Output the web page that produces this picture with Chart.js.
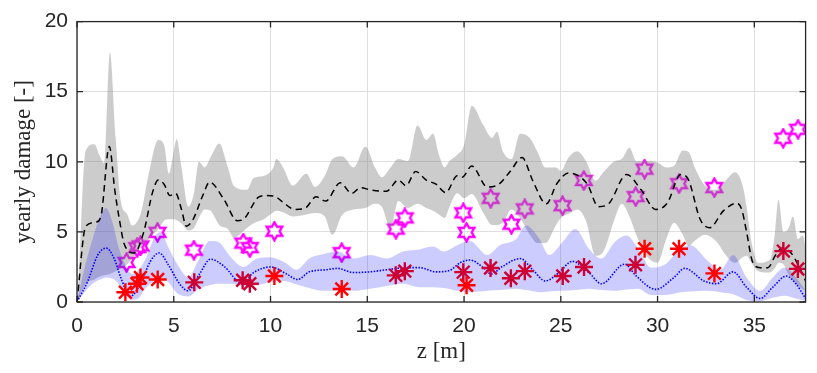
<!DOCTYPE html>
<html>
<head>
<meta charset="utf-8">
<script src="https://cdn.jsdelivr.net/npm/chart.js@4/dist/chart.umd.min.js"></script>
<style>
  html, body { margin: 0; padding: 0; background: #fff; }
  #wrap { width: 817px; height: 373px; }
</style>
</head>
<body>
<div id="wrap"><canvas id="chartCanvas" width="817" height="373"></canvas></div>
<script>
// ---- data ----
const grayZ = [0.05, 0.45, 0.9, 1.15, 1.4, 1.7, 2.0, 2.25, 2.6, 2.85, 3.3, 3.7, 4.2, 4.5, 4.75,
  5.0, 5.15, 5.4, 5.75, 6.05, 6.3, 6.6, 6.9, 7.35, 7.8, 8.1, 8.8, 9.1, 9.65, 10.15,
  10.3, 10.65, 11.15, 11.85, 12.3, 12.8, 13.2, 13.7, 14.3, 14.9, 15.4, 15.75, 16.2, 16.6, 17.1,
  17.6, 18.05, 18.4, 18.7, 19.0, 19.25, 19.65, 20.0, 20.4, 21.0, 21.45, 21.7, 22.0, 22.45, 22.9,
  23.4, 23.8, 24.2, 24.75, 25.0, 25.4, 25.85, 26.3, 26.8, 27.2, 27.8, 28.15, 28.55, 28.9, 29.4,
  30.0, 30.45, 30.85, 31.3, 31.6, 31.95, 32.45, 33.05, 33.55, 34.0, 34.4, 34.6, 34.85, 35.2, 35.8,
  36.05, 36.25, 36.5, 36.75, 37.0, 37.25, 37.5, 37.7];
const grayUpper = [0.3, 10.8, 11.25, 10.5, 9.9, 17.8, 11.7, 7.3, 6.25, 5.45, 6.35, 9.1, 11.55, 11.2, 9.15,
  10.75, 11.6, 9.6, 6.8, 7.8, 10.0, 9.6, 10.3, 11.3, 9.6, 8.3, 8.0, 8.8, 9.0, 9.6,
  10.2, 9.6, 8.3, 9.15, 8.2, 9.0, 10.2, 10.4, 9.6, 11.1, 9.6, 8.9, 9.6, 10.2, 10.05,
  12.6, 11.55, 12.0, 10.5, 9.6, 10.05, 10.5, 11.2, 14.0, 12.6, 11.7, 12.15, 10.75, 10.2, 12.0,
  11.7, 10.7, 9.6, 9.6, 9.35, 10.3, 10.75, 10.05, 8.65, 9.25, 10.05, 10.2, 11.0, 10.05, 10.05,
  9.95, 9.6, 9.7, 10.8, 10.7, 9.5, 8.3, 8.0, 8.7, 9.25, 8.3, 6.8, 4.3, 2.8, 3.0,
  4.75, 7.3, 5.0, 5.2, 6.1, 4.5, 4.75, 3.35];
const grayLower = [0.2, 1.3, 1.6, 1.8, 1.9, 2.0, 2.2, 2.4, 2.7, 3.1, 3.9, 4.5, 5.2, 5.8, 5.9,
  5.9, 5.85, 5.6, 5.1, 5.3, 6.0, 6.6, 6.5, 5.5, 5.2, 4.6, 5.3, 5.6, 5.9, 6.4,
  6.5, 6.4, 6.1, 6.25, 6.35, 6.1, 4.8, 6.2, 6.6, 6.7, 7.0, 6.8, 5.3, 7.2, 6.7,
  7.0, 6.7, 6.5, 6.25, 6.0, 6.8, 7.75, 7.4, 7.7, 6.35, 5.5, 5.5, 5.65, 6.6, 6.0,
  4.8, 4.2, 4.2, 5.5, 6.0, 6.3, 6.6, 5.8, 3.3, 3.6, 6.0, 7.0, 6.1, 4.8, 3.35,
  2.8, 4.5, 5.65, 4.8, 4.0, 4.4, 4.8, 4.3, 3.3, 2.8, 3.2, 3.3, 2.8, 2.2, 2.1,
  2.4, 2.8, 2.7, 2.0, 1.5, 1.2, 0.9, 0.8];

const blackMeanZ = [0, 0.45, 1.0, 1.25, 1.67, 1.95, 2.2, 2.45, 2.95, 3.45, 3.9, 4.2, 4.5, 4.8, 5.1,
  5.4, 5.65, 6.0, 6.5, 6.85, 7.6, 8.28, 8.6, 9.4, 9.8, 10.2, 10.7, 11.25, 11.8, 12.35,
  12.85, 13.6, 14.2, 14.65, 15.15, 16.0, 16.6, 17.0, 17.5, 18.05, 18.55, 19.05, 19.65, 19.9, 20.4,
  21.2, 21.8, 22.4, 23.0, 23.55, 24.25, 24.8, 25.4, 26.35, 26.95, 27.5, 28.4, 29.15, 29.9, 30.5,
  31.2, 31.6, 32.2, 32.7, 33.4, 34.1, 34.35, 34.6, 34.9, 35.3, 35.7, 36.1, 36.45, 36.9, 37.3, 37.65];
const blackMean = [0, 5.4, 5.7, 6.2, 11.1, 8.0, 5.8, 4.1, 3.5, 5.0, 7.8, 8.7, 8.4, 7.6, 7.75,
  6.6, 5.4, 5.9, 7.6, 8.55, 7.3, 5.8, 5.9, 7.5, 7.6, 7.55, 7.05, 6.6, 6.7, 7.5,
  7.2, 8.5, 7.75, 8.15, 8.0, 7.9, 8.7, 8.3, 9.3, 8.7, 8.4, 7.8, 9.0, 8.9, 9.7,
  8.2, 8.4, 9.35, 10.3, 8.65, 7.0, 8.45, 9.2, 8.45, 6.8, 7.05, 9.1, 8.0, 6.6, 7.05,
  9.1, 8.7, 5.9, 5.3, 6.5, 7.05, 6.6, 5.0, 2.9, 2.45, 2.45, 3.35, 3.85, 3.5, 2.55, 1.5];

const blueZ = [0, 0.4, 0.8, 1.2, 1.5, 1.85, 2.15, 2.5, 2.85, 3.2, 3.55, 4.0, 4.3, 4.72, 5.2,
  5.75, 6.25, 6.85, 7.27, 7.95, 8.6, 9.3, 10.0, 10.7, 11.35, 12.0, 12.7, 13.45, 14.3, 15.15,
  16.0, 16.85, 17.7, 18.4, 18.95, 19.65, 20.3, 21.2, 21.85, 22.7, 23.2, 23.9, 24.4, 25.1, 25.75,
  26.45, 27.1, 27.8, 28.4, 29.0, 29.67, 30.35, 31.2, 31.7, 32.55, 33.25, 33.9, 34.6, 35.3, 35.95,
  36.55, 37.15, 37.65];
const blueUpper = [0, 2.5, 4.5, 6.1, 6.7, 5.6, 3.9, 2.65, 2.0, 2.3, 3.1, 4.6, 5.0, 3.9, 2.65,
  1.75, 2.9, 4.35, 4.3, 3.2, 2.5, 3.1, 3.2, 2.85, 2.3, 3.1, 3.4, 3.6, 3.1, 3.35,
  3.1, 3.6, 3.75, 3.95, 3.6, 4.05, 4.35, 3.35, 4.05, 4.5, 5.45, 4.5, 3.35, 4.3, 5.2,
  3.8, 3.1, 4.3, 4.75, 3.8, 2.45, 2.65, 3.8, 4.05, 3.0, 2.3, 3.35, 1.75, 0.8, 1.75,
  2.45, 1.75, 0.8];
const blueLower = [0, 0.7, 1.3, 1.6, 1.75, 1.65, 1.3, 0.5, 0.15, 0.3, 1.0, 1.5, 1.75, 1.4, 0.6,
  0.4, 0.9, 1.2, 1.3, 1.3, 1.15, 1.2, 1.4, 1.5, 1.25, 1.0, 0.8, 0.8, 0.8, 0.95,
  1.15, 1.3, 1.05, 1.05, 1.0, 0.8, 0.7, 0.8, 0.85, 0.95, 0.85, 0.7, 0.75, 0.8, 0.85,
  0.95, 0.85, 0.8, 0.9, 0.95, 0.5, 0.5, 0.7, 0.75, 0.8, 0.7, 0.55, 0.15, 0.05, 0.3,
  0.45, 0.25, 0.05];

const blueMeanZ = [0, 0.56, 1.07, 1.5, 1.92, 2.26, 2.75, 3.28, 3.79, 4.25, 4.72, 5.3, 5.74, 6.33, 6.9,
  7.6, 8.5, 9.13, 10.0, 10.83, 11.4, 12.0, 12.87, 13.45, 14.3, 15.15, 16.0, 17.0, 17.7, 18.55,
  19.25, 19.8, 20.3, 21.0, 21.4, 22.0, 22.9, 23.55, 24.2, 24.9, 25.6, 26.45, 27.1, 28.3, 28.9,
  29.9, 30.85, 31.4, 32.4, 33.05, 33.9, 34.6, 35.3, 35.95, 36.65, 37.15, 37.65];
const blueMean = [0, 1.5, 3.35, 3.85, 3.1, 1.75, 0.4, 1.3, 2.9, 3.5, 2.65, 1.3, 0.8, 2.0, 3.05,
  2.55, 1.35, 2.1, 2.5, 2.0, 1.6, 2.15, 2.3, 2.4, 2.1, 2.15, 2.3, 2.45, 2.45, 2.15,
  2.25, 2.8, 3.0, 2.45, 2.0, 2.55, 3.1, 2.3, 1.5, 2.1, 2.9, 2.1, 1.3, 2.7, 1.85,
  0.9, 1.75, 2.4, 1.5, 1.3, 2.15, 1.05, 0.25, 1.05, 1.85, 1.3, 0.25];

const redZ = [2.5, 3.1, 3.28, 4.17, 10.2, 13.68, 20.13, 29.33, 31.11, 32.94];
const redDamage = [0.7, 1.3, 1.75, 1.6, 1.85, 0.93, 1.2, 3.8, 3.8, 2.04];
const crimsonZ = [6.06, 8.56, 8.93, 16.47, 16.94, 19.96, 21.37, 22.42, 23.14, 25.1, 26.2, 28.86, 36.5, 37.25];
const crimsonDamage = [1.4, 1.55, 1.3, 1.9, 2.2, 2.13, 2.43, 1.69, 2.2, 1.85, 2.5, 2.65, 3.63, 2.36];
const hexZ = [2.56, 3.11, 3.28, 4.16, 6.04, 8.59, 8.93, 10.2, 13.68, 16.48, 16.94, 19.96, 20.13, 21.38,
  22.45, 23.14, 25.09, 26.19, 28.87, 29.33, 31.11, 32.93, 36.49, 37.26];
const hexDamage = [2.82, 3.88, 4.0, 4.97, 3.7, 4.2, 3.88, 5.05, 3.52, 5.2, 6.0, 6.36, 4.97, 7.4,
  5.55, 6.64, 6.87, 8.67, 7.52, 9.48, 8.44, 8.16, 11.68, 12.32];

const xTicks = [0, 5, 10, 15, 20, 25, 30, 35];
const yTicks = [0, 5, 10, 15, 20];

// ---- helpers ----
const AXIS_COLOR = '#262626';
const TICK_FONT = { family: "'Liberation Sans', Arial, sans-serif", size: 21 };
const TITLE_FONT = { family: "'Liberation Serif', 'Times New Roman', serif", size: 23 };

var toPoints = function toPoints(xs, ys) {
  return xs.map((x, i) => ({ x: x, y: ys[i] }));
};

var makeHexagram = function makeHexagram(size, color, lineWidth) {
  var c = document.createElement('canvas');
  c.width = size;
  c.height = size;
  var ctx = c.getContext('2d');
  var cx = size / 2, cy = size / 2;
  var R = size / 2 - lineWidth / 2 - 0.3;
  var r = R / Math.sqrt(3);
  ctx.beginPath();
  for (var i = 0; i < 12; i++) {
    var ang = -Math.PI / 2 + i * Math.PI / 6;
    var rad = (i % 2 === 0) ? R : r;
    var px = cx + rad * Math.cos(ang), py = cy + rad * Math.sin(ang);
    if (i === 0) { ctx.moveTo(px, py); } else { ctx.lineTo(px, py); }
  }
  ctx.closePath();
  ctx.strokeStyle = color;
  ctx.lineWidth = lineWidth;
  ctx.lineJoin = 'miter';
  ctx.stroke();
  return c;
};

// box and inward ticks, MATLAB style
var boxPlugin = {
  id: 'box',
  afterDatasetsDraw: function (chart) {
    var ctx = chart.ctx, a = chart.chartArea;
    var xs = chart.scales.x, ys = chart.scales.y;
    ctx.save();
    ctx.strokeStyle = AXIS_COLOR;
    ctx.lineWidth = 1.3;
    ctx.strokeRect(a.left, a.top, a.right - a.left, a.bottom - a.top);
    ctx.beginPath();
    xTicks.forEach(function (v) {
      var p = xs.getPixelForValue(v);
      ctx.moveTo(p, a.bottom); ctx.lineTo(p, a.bottom - 6);
      ctx.moveTo(p, a.top); ctx.lineTo(p, a.top + 6);
    });
    yTicks.forEach(function (v) {
      var p = ys.getPixelForValue(v);
      ctx.moveTo(a.left, p); ctx.lineTo(a.left + 6, p);
      ctx.moveTo(a.right, p); ctx.lineTo(a.right - 6, p);
    });
    ctx.stroke();
    ctx.restore();
  }
};

var hexagram = makeHexagram(21, '#ff00ff', 2.4);

var lineDefaults = {
  pointRadius: 0,
  cubicInterpolationMode: 'monotone',
  fill: false
};

var chartConfig = {
  type: 'line',
  data: {
    datasets: [
      {
        data: toPoints(redZ, redDamage),
        showLine: false,
        pointStyle: 'star',
        pointRadius: 9,
        pointBorderWidth: 2.4,
        pointBorderColor: '#ff0000',
        pointBackgroundColor: '#ff0000'
      },
      {
        data: toPoints(crimsonZ, crimsonDamage),
        showLine: false,
        pointStyle: 'star',
        pointRadius: 9,
        pointBorderWidth: 2.4,
        pointBorderColor: '#cc0033',
        pointBackgroundColor: '#cc0033'
      },
      Object.assign({}, lineDefaults, {
        data: toPoints(blueMeanZ, blueMean),
        borderColor: '#0000ff',
        borderWidth: 1.6,
        borderDash: [1.5, 1.5]
      }),
      Object.assign({}, lineDefaults, {
        data: toPoints(blackMeanZ, blackMean),
        borderColor: '#000000',
        borderWidth: 1.5,
        borderDash: [6.5, 4.5]
      }),
      Object.assign({}, lineDefaults, {
        data: toPoints(blueZ, blueUpper),
        borderColor: 'rgba(0,0,0,0)',
        borderWidth: 0,
        fill: '+1',
        backgroundColor: 'rgba(0,0,255,0.2)'
      }),
      Object.assign({}, lineDefaults, {
        data: toPoints(blueZ, blueLower),
        borderColor: 'rgba(0,0,0,0)',
        borderWidth: 0
      }),
      Object.assign({}, lineDefaults, {
        data: toPoints(grayZ, grayUpper),
        borderColor: 'rgba(0,0,0,0)',
        borderWidth: 0,
        fill: '+1',
        backgroundColor: 'rgba(128,128,128,0.4)'
      }),
      Object.assign({}, lineDefaults, {
        data: toPoints(grayZ, grayLower),
        borderColor: 'rgba(0,0,0,0)',
        borderWidth: 0
      }),
      {
        data: toPoints(hexZ, hexDamage),
        showLine: false,
        pointStyle: hexagram,
        pointRadius: 10
      }
    ]
  },
  options: {
    responsive: false,
    animation: false,
    devicePixelRatio: 1,
    events: [],
    layout: { padding: { top: 13, right: 0, bottom: 0, left: 0 } },
    scales: {
      x: {
        type: 'linear',
        min: 0,
        max: 37.65,
        afterFit: function (scale) { scale.height = 71; },
        afterBuildTicks: function (scale) {
          scale.ticks = xTicks.map(v => ({ value: v }));
        },
        border: { display: false },
        grid: { color: '#dfdfdf', lineWidth: 1, drawTicks: false },
        ticks: { font: TICK_FONT, color: AXIS_COLOR, padding: 12, maxRotation: 0 },
        title: { display: true, text: 'z [m]', font: TITLE_FONT, color: AXIS_COLOR, padding: { top: 0, bottom: 7 } }
      },
      y: {
        type: 'linear',
        min: 0,
        max: 20,
        afterFit: function (scale) { scale.width = 77; },
        afterBuildTicks: function (scale) {
          scale.ticks = yTicks.map(v => ({ value: v }));
        },
        border: { display: false },
        grid: { color: '#dfdfdf', lineWidth: 1, drawTicks: false },
        ticks: { font: TICK_FONT, color: AXIS_COLOR, padding: 9 },
        title: { display: true, text: 'yearly damage [-]', font: TITLE_FONT, color: AXIS_COLOR, padding: { top: 10, bottom: 0 } }
      }
    },
    plugins: {
      legend: { display: false },
      tooltip: { enabled: false }
    }
  },
  plugins: [boxPlugin]
};

new Chart(document.getElementById('chartCanvas'), chartConfig);
</script>
</body>
</html>
